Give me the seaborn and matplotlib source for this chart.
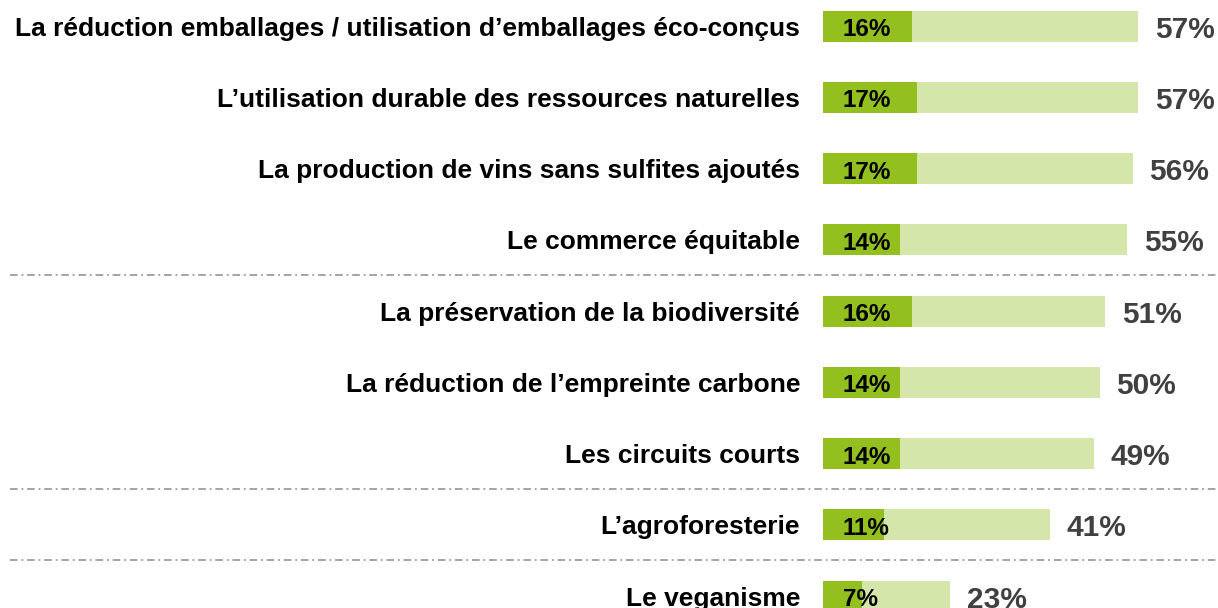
import matplotlib
matplotlib.use('Agg')
import matplotlib.pyplot as plt
import seaborn as sns
import pandas as pd

# Data
categories = [
    "La réduction emballages / utilisation d\u2019emballages éco-conçus",
    "L\u2019utilisation durable des ressources naturelles",
    "La production de vins sans sulfites ajoutés",
    "Le commerce équitable",
    "La préservation de la biodiversité",
    "La réduction de l\u2019empreinte carbone",
    "Les circuits courts",
    "L\u2019agroforesterie",
    "Le veganisme",
]
total_pct = [57, 57, 56, 55, 51, 50, 49, 41, 23]
first_pct = [16, 17, 17, 14, 16, 14, 14, 11, 7]
divider_after = [3, 6, 7]

df = pd.DataFrame({"cat": categories, "total": total_pct, "first": first_pct})

sns.set_theme(style="white")
plt.rcParams['font.family'] = ['Liberation Sans', 'DejaVu Sans']

fig = plt.figure(figsize=(12.18, 6.08), dpi=100)
ax = fig.add_axes([823 / 1218, 0, 395 / 1218, 1])

light = "#d4e6a9"
dark = "#93c01f"

sns.barplot(data=df, x="total", y="cat", color=light, width=0.435,
            saturation=1, linewidth=0, ax=ax, orient="h")
sns.barplot(data=df, x="first", y="cat", color=dark, width=0.435,
            saturation=1, linewidth=0, ax=ax, orient="h")

ax.set_xlim(0, 71.4)
ax.set_ylim(8.168, -0.365)
ax.set_xlabel("")
ax.set_ylabel("")
ax.set_xticks([])
for s in ax.spines.values():
    s.set_visible(False)

ax.set_yticks(range(len(categories)))
ax.set_yticklabels(categories, fontsize=19, fontweight="bold", color="black")
ax.tick_params(axis="y", length=0, pad=16.5)

for i, (t, f) in enumerate(zip(total_pct, first_pct)):
    ax.text(t + 3.0, i + 0.05, f"{t}%", ha="left", va="center", fontsize=21.5,
            fontweight="bold", color="#404040")
    ax.text(3.6, i + 0.05, f"{f}%", ha="left", va="center", fontsize=17.5,
            fontweight="bold", color="black")

# dash-dot separators between groups
for d in divider_after:
    y = d + 0.5
    ax.plot([-147, 71.4], [y, y], color="#8c8c8c", lw=1.1, clip_on=False,
            dashes=(5, 2.5, 1.2, 2.5))

fig.savefig("out.png", dpi=100)
